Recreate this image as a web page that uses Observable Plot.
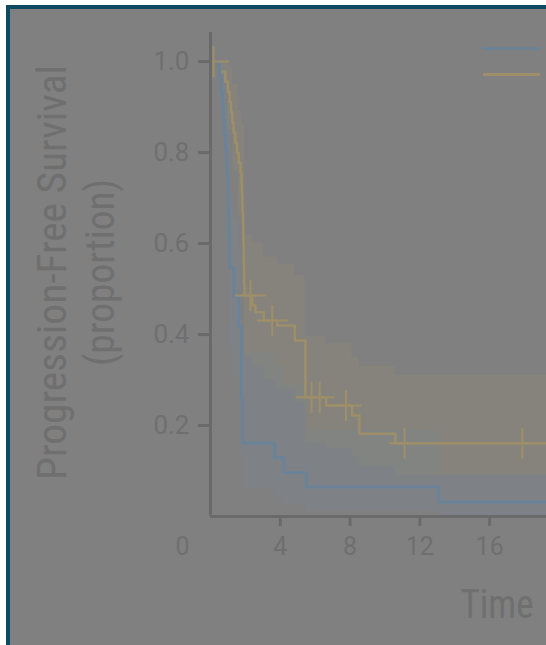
<!DOCTYPE html>
<html>
<head>
<meta charset="utf-8">
<script src="https://cdn.jsdelivr.net/npm/d3@7"></script>
<script src="https://cdn.jsdelivr.net/npm/@observablehq/plot@0.6"></script>
<style>
  html, body { margin: 0; padding: 0; background: #ffffff; }
  body { width: 546px; height: 645px; overflow: hidden; position: relative; font-family: Roboto, sans-serif; }
  #frame { position: absolute; left: 6px; top: 5px; right: 0; bottom: 0; background: #808080;
           border-left: 4px solid #0d4a61; border-top: 4px solid #0d4a61; }
  #chart { position: absolute; left: 0; top: 0; }
  .swatch { position: absolute; height: 3px; width: 57px; left: 483px; }
</style>
</head>
<body>
<div id="frame"></div>
<div id="chart"></div>
<div class="swatch" style="top:47px; background:#6a8398"></div>
<div class="swatch" style="top:73px; background:#9e8f68"></div>
<script>
// Kaplan–Meier estimates (time in months, proportion surviving)
const groups = ["Arm 1", "Arm 2"];
const groupColors = ["#6a8398", "#9e8f68"];

const arm1T = [0, 0.52, 0.6, 0.67, 0.74, 0.8, 0.87, 0.93, 0.98, 1.0, 1.02, 1.04, 1.06, 1.08, 1.09, 1.34, 1.62, 1.78, 1.85, 3.67, 4.2, 5.5, 13.08, 20];
const arm1S = [1.000, 0.968, 0.935, 0.903, 0.871, 0.839, 0.806, 0.774, 0.742, 0.710, 0.677, 0.645, 0.613, 0.581, 0.548, 0.484, 0.419, 0.258, 0.161, 0.129, 0.097, 0.065, 0.032, 0.032];

const arm2T = [0, 0.55, 0.85, 1.0, 1.1, 1.18, 1.25, 1.32, 1.42, 1.52, 1.62, 1.72, 1.78, 1.80, 1.82, 1.84, 1.86, 1.88, 1.89, 1.90, 1.91, 1.92, 1.93, 1.95, 2.39, 2.58, 3.05, 3.82, 4.83, 5.44, 6.63, 8.12, 8.54, 10.6, 20];
const arm2S = [1.000, 0.978, 0.956, 0.933, 0.911, 0.889, 0.867, 0.844, 0.822, 0.800, 0.778, 0.756, 0.733, 0.711, 0.689, 0.667, 0.644, 0.622, 0.600, 0.578, 0.556, 0.533, 0.511, 0.486, 0.464, 0.449, 0.431, 0.420, 0.387, 0.262, 0.244, 0.222, 0.182, 0.161, 0.161];

// censoring marks (arm 2)
const arm2CensT = [0.17, 2.29, 3.54, 5.79, 6.26, 7.77, 11.12, 17.88];
const arm2CensS = [1.000, 0.486, 0.431, 0.262, 0.262, 0.244, 0.161, 0.161];

// confidence bands (stepped)
const arm1BandT  = [0, 0.5, 0.75, 0.96, 1.09, 1.34, 1.62, 1.78, 1.85, 3.67, 4.2, 5.5, 13.08, 20];
const arm1BandLo = [1.0, 0.92, 0.78, 0.60, 0.37, 0.31, 0.26, 0.13, 0.06, 0.04, 0.025, 0.012, 0.003, 0.003];
const arm1BandHi = [1.0, 1.0, 0.98, 0.90, 0.71, 0.65, 0.59, 0.43, 0.36, 0.33, 0.29, 0.19, 0.09, 0.09];

const arm2BandT  = [0, 0.5, 1.0, 1.3, 1.6, 1.8, 1.95, 2.39, 3.05, 3.82, 4.83, 5.44, 6.63, 8.12, 8.54, 10.6, 20];
const arm2BandLo = [1.0, 0.95, 0.85, 0.76, 0.66, 0.62, 0.35, 0.33, 0.30, 0.28, 0.25, 0.16, 0.15, 0.13, 0.11, 0.09, 0.09];
const arm2BandHi = [1.0, 1.0, 0.99, 0.95, 0.89, 0.86, 0.62, 0.60, 0.57, 0.555, 0.53, 0.395, 0.38, 0.35, 0.33, 0.31, 0.31];

const xTickValues = [4, 8, 12, 16];
const yTickValues = [0.2, 0.4, 0.6, 0.8, 1.0];
const yTitle = "Progression-Free Survival";
const yTitle2 = "(proportion)";
const xTitle = "Time";

const zip = (T, S, g) => T.map((t, i) => ({t, s: S[i], g}));
const band = (T, L, H, g) => T.map((t, i) => ({t, lo: L[i], hi: H[i], g}));

const curve1 = zip(arm1T, arm1S, groups[0]);
const curve2 = zip(arm2T, arm2S, groups[1]);
const bands1 = band(arm1BandT, arm1BandLo, arm1BandHi, groups[0]);
const bands2 = band(arm2BandT, arm2BandLo, arm2BandHi, groups[1]);
const censors = zip(arm2CensT, arm2CensS, groups[1]);

const axisColor = "#6a6a6a";
const textColor = "#6f6f6f";
const titleFont = "'Liberation Sans Narrow', 'Roboto Condensed', Roboto, sans-serif";

const chart = Plot.plot({
  width: 546,
  height: 645,
  marginLeft: 210,
  marginRight: 0,
  marginTop: 32,
  marginBottom: 129,
  x: {domain: [0, 19.26], axis: null},
  y: {domain: [0, 1.064], axis: null},
  color: {domain: groups, range: groupColors},
  style: {background: "transparent", fontFamily: "Roboto, sans-serif", fontSize: "25px", color: textColor, overflow: "hidden"},
  marks: [
    Plot.areaY(bands2, {x: "t", y1: "lo", y2: "hi", curve: "step-after", fill: "#b59a5c", fillOpacity: 0.1, clip: true}),
    Plot.areaY(bands1, {x: "t", y1: "lo", y2: "hi", curve: "step-after", fill: "#6f8cab", fillOpacity: 0.14, clip: true}),
    Plot.lineY(curve2, {x: "t", y: "s", stroke: "g", curve: "step-after", strokeWidth: 2.4, clip: true}),
    Plot.lineY(curve1, {x: "t", y: "s", stroke: "g", curve: "step-after", strokeWidth: 3, clip: true}),
    Plot.dot(censors, {x: "t", y: "s", symbol: "plus", r: 10, stroke: "g", strokeWidth: 2}),
    Plot.ruleX([0], {y1: 0, y2: 1.064, stroke: axisColor, strokeWidth: 3}),
    Plot.ruleY([0], {stroke: axisColor, strokeWidth: 3}),
    Plot.axisX({ticks: xTickValues, tickSize: 10, tickPadding: 11, stroke: axisColor, strokeWidth: 3, fill: textColor, fontSize: 25, label: null}),
    Plot.text([0], {x: d => d, frameAnchor: "bottom", text: d => String(d), dx: -28, dy: 21, lineAnchor: "top", fill: textColor, fontSize: 25}),
    Plot.axisY({ticks: yTickValues, tickSize: 12, tickPadding: 9, tickFormat: ".1f", stroke: axisColor, strokeWidth: 3, fill: textColor, fontSize: 26, label: null}),
    Plot.text([yTitle], {frameAnchor: "left", text: d => d, rotate: -90, dx: -157, dy: -2, textAnchor: "middle", lineAnchor: "middle", fill: textColor, fontSize: 40, fontFamily: titleFont}),
    Plot.text([yTitle2], {frameAnchor: "left", text: d => d, rotate: -90, dx: -109, dy: -2, textAnchor: "middle", lineAnchor: "middle", fill: textColor, fontSize: 40, fontFamily: titleFont}),
    Plot.text([xTitle], {frameAnchor: "bottom", text: d => d, dx: 82, dy: 101, textAnchor: "start", lineAnchor: "bottom", fill: textColor, fontSize: 40, fontFamily: titleFont})
  ]
});

document.getElementById("chart").appendChild(chart);

// condensed title lettering, as in the original
const lengths = {[yTitle]: 415, [yTitle2]: 187, [xTitle]: 73};
d3.select(chart).selectAll("text").each(function () {
  const L = lengths[this.textContent];
  if (L) { this.setAttribute("textLength", L); this.setAttribute("lengthAdjust", "spacingAndGlyphs"); }
});
</script>
</body>
</html>
